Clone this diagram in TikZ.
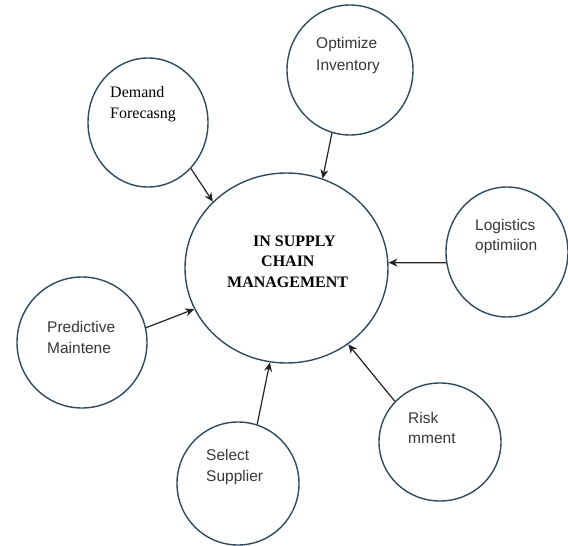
\documentclass[tikz,border=0pt]{standalone}
\usepackage{fontspec}
\setmainfont{Liberation Serif}
\newfontfamily\labelsans{Liberation Sans}
\usetikzlibrary{shapes.geometric,arrows.meta}
\definecolor{ringcol}{RGB}{45,75,95}
\definecolor{labelgrey}{RGB}{55,55,55}
\definecolor{linkcol}{RGB}{35,35,35}
\begin{document}
\begin{tikzpicture}[x=1pt,y=-1pt,
  ring/.style={draw=ringcol,line width=1.4pt,ellipse,inner sep=0pt},
  link/.style={draw=linkcol,line width=1.2pt,-{Stealth[length=9pt,width=8pt]}},
  sanslbl/.style={anchor=base west,inner sep=0pt,font=\labelsans\fontsize{15.5}{18}\selectfont,text=labelgrey},
  seriflbl/.style={anchor=base west,inner sep=0pt,font=\fontsize{16}{19}\selectfont,text=black},
  corelbl/.style={anchor=base west,inner sep=0pt,font=\bfseries\fontsize{16}{19}\selectfont,text=black}]
\useasboundingbox (0,0) rectangle (568,546);

% circles
\node[ring,minimum width=203pt,minimum height=190pt] (core) at (286.5,268) {};
\node[ring,minimum width=120pt,minimum height=129pt] (demand) at (148,122.5) {};
\node[ring,minimum width=126pt,minimum height=130pt] (inventory) at (350,70) {};
\node[ring,minimum width=122pt,minimum height=130pt] (logistics) at (507,252) {};
\node[ring,minimum width=130pt,minimum height=131pt] (predictive) at (82,342.5) {};
\node[ring,minimum width=122pt,minimum height=118pt] (risk) at (440,442) {};
\node[ring,minimum width=122pt,minimum height=123pt] (supplier) at (238,483.5) {};

% labels
\node[corelbl] (c1) at (253,246) {IN SUPPLY};
\node[corelbl] (c2) at (261,266) {CHAIN};
\node[corelbl] (c3) at (227,287) {MANAGEMENT};

\node[seriflbl] (d1) at (110,97) {Demand};
\node[seriflbl] (d2) at (110,118) {Forecasng};

\node[sanslbl] (i1) at (316,48) {Optimize};
\node[sanslbl] (i2) at (316,70) {Inventory};

\node[sanslbl] (l1) at (475,230) {Logistics};
\node[sanslbl] (l2) at (475,250) {optimiion};

\node[sanslbl] (p1) at (47,332) {Predictive};
\node[sanslbl] (p2) at (47,353) {Maintene};

\node[sanslbl] (r1) at (408,423) {Risk};
\node[sanslbl] (r2) at (408,443) {mment};

\node[sanslbl] (s1) at (206,460) {Select};
\node[sanslbl] (s2) at (206,481) {Supplier};

% connectors into the central circle
\draw[link] (demand.-47) -- (core.138);
\draw[link] (inventory.254) -- (core.68);
\draw[link] (logistics.190) -- (core.3);
\draw[link] (predictive.13) -- (core.204);
\draw[link] (supplier.72) -- (core.260);
\draw[link] (risk.138) -- (core.309);
\end{tikzpicture}
\end{document}
